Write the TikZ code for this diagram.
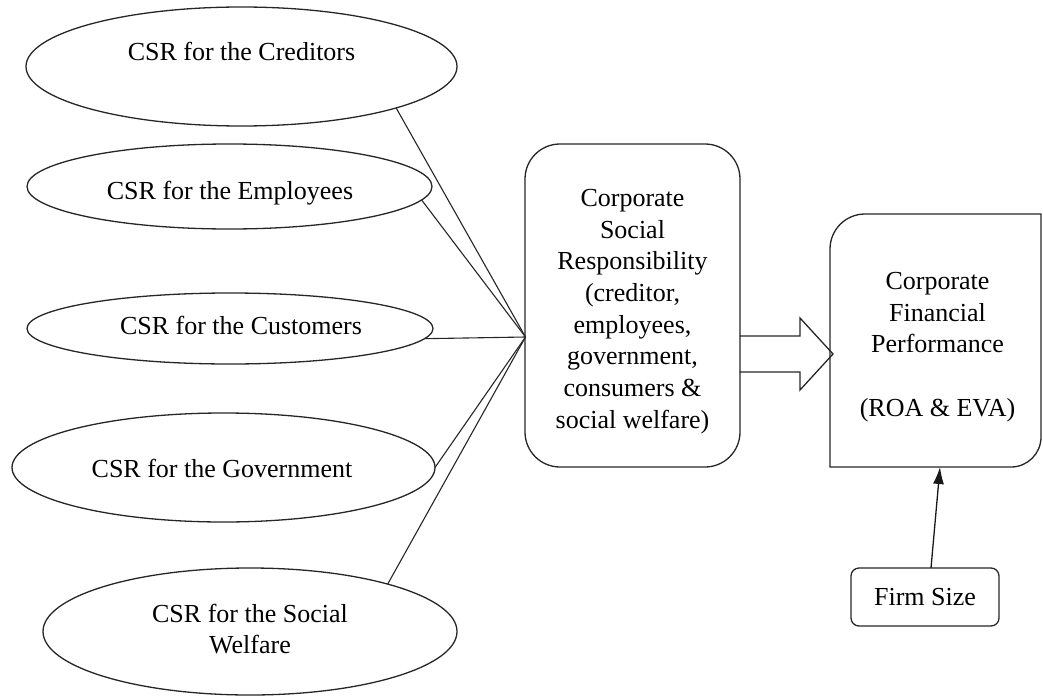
\documentclass[tikz,border=0pt]{standalone}
\usepackage{fontspec}
\setmainfont{Liberation Serif}
\usetikzlibrary{shapes.geometric,arrows.meta}
\begin{document}
\begin{tikzpicture}[x=1pt,y=-1pt,line width=1.3pt,
  oval/.style={ellipse, draw=black!85, inner sep=0pt, outer sep=0pt},
  lbl/.style={font=\fontsize{26}{31.7}\selectfont, inner sep=0pt, outer sep=0pt, align=center},
  csrbox/.style={draw=black!85, rounded corners=35pt, inner sep=0pt, outer sep=0pt},
  sizebox/.style={lbl, draw=black!85, rounded corners=8pt},
  link/.style={draw=black!85, line width=1.1pt},
  blockarrow/.style={draw=black!85, line width=1.3pt, line join=miter},
  pointer/.style={draw=black!90, line width=1.3pt, -{Latex[length=17pt,width=11pt]}}]
\useasboundingbox (0,0) rectangle (1043,698);

% stakeholder ellipses
\node[oval, minimum width=431pt, minimum height=119pt] (cred) at (241.5,66.5) {};
\node[lbl, anchor=base] (credtxt) at (241.5,61) {CSR for the Creditors};
\node[oval, minimum width=405pt, minimum height=85pt] (emp) at (229.5,186.5) {};
\node[lbl, anchor=base] (emptxt) at (230,199) {CSR for the Employees};
\node[oval, minimum width=406pt, minimum height=71pt] (cust) at (230,328.5) {};
\node[lbl, anchor=base] (custtxt) at (241,334) {CSR for the Customers};
\node[oval, minimum width=423pt, minimum height=109pt] (gov) at (223.5,467.5) {};
\node[lbl, anchor=base] (govtxt) at (222,477) {CSR for the Government};
\node[oval, minimum width=414pt, minimum height=127pt] (welf) at (250,631.5) {};
\node[lbl] (welftxt) at (250,629) {CSR for the Social\\Welfare};

% central construct
\node[csrbox, minimum width=215pt, minimum height=323pt] (csr) at (632.5,305.5) {};
\node[lbl] (csrtxt) at (632.5,311.5)
  {Corporate\\Social\\Responsibility\\(creditor,\\employees,\\government,\\consumers \&\\social welfare)};
\coordinate (conv) at (525.5,337);

% outcome box: top-left and bottom-right corners rounded
\node[inner sep=0pt, outer sep=0pt, minimum width=211pt, minimum height=253pt] (cfp) at (935.5,340.5) {};
\draw[draw=black!85] (cfp.south west) -- ([yshift=-35pt]cfp.north west)
  arc[start angle=180, end angle=90, radius=35pt] -- (cfp.north east)
  -- ([yshift=30pt]cfp.south east)
  arc[start angle=0, end angle=-90, radius=30pt] -- cycle;
\node[lbl] (cfptxt) at (937.5,347)
  {Corporate\\Financial\\Performance\\[31.7pt](ROA \& EVA)};

% control variable
\node[sizebox, minimum width=148pt, minimum height=58pt] (firm) at (925,597) {Firm Size};

% links
\draw[link] (cred.-15) -- (conv);
\draw[link] (emp.-4) -- (conv);
\draw[link] (cust.-3) -- (conv);
\draw[link] (gov.east) -- (conv);
\draw[link] (welf.19) -- (conv);

\draw[blockarrow] (739.5,336) -- (800,336) -- (800,318) -- (833,354)
  -- (800,390) -- (800,372) -- (739.5,372);

\draw[pointer] ([xshift=6pt]firm.north) -- ([xshift=4.5pt]cfp.south);
\end{tikzpicture}
\end{document}
